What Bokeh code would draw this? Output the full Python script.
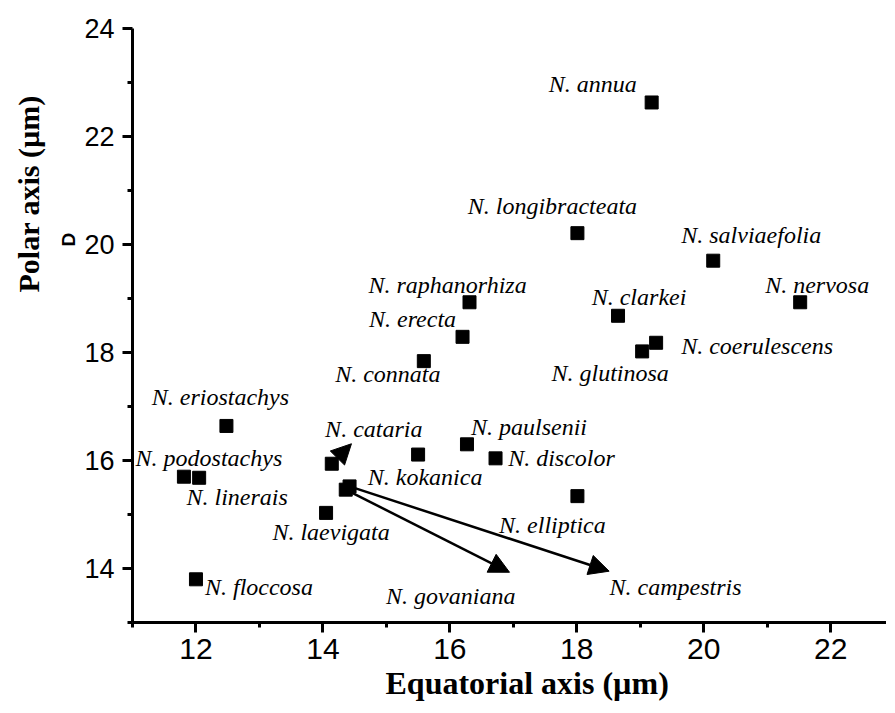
from bokeh.plotting import figure
from bokeh.models import FixedTicker, Title, Arrow, NormalHead, ColumnDataSource
from bokeh.embed import file_html
from bokeh.resources import INLINE
from bokeh.core.properties import value

# ---- data ----
species = ["N. annua", "N. longibracteata", "N. salviaefolia", "N. raphanorhiza",
           "N. nervosa", "N. clarkei", "N. erecta", "N. coerulescens", "N. glutinosa",
           "N. connata", "N. eriostachys", "N. cataria", "N. podostachys", "N. linerais",
           "N. kokanica", "N. paulsenii", "N. discolor", "N. laevigata", "N. govaniana",
           "N. campestris", "N. elliptica", "N. floccosa"]
equatorial = [19.18, 18.01, 20.15, 16.31, 21.52, 18.65, 16.20, 19.25, 19.03,
              15.59, 12.48, 14.14, 11.81, 12.05, 15.50, 16.27, 16.72, 14.05, 14.36,
              14.42, 18.01, 12.00]
polar = [22.63, 20.21, 19.70, 18.93, 18.93, 18.68, 18.29, 18.18, 18.02,
         17.84, 16.64, 15.94, 15.70, 15.68, 16.11, 16.30, 16.04, 15.03, 15.46,
         15.52, 15.34, 13.80]

x_ticks = [12, 14, 16, 18, 20, 22]
x_minor = [11, 13, 15, 17, 19, 21, 23]
y_ticks = [14, 16, 18, 20, 22, 24]
y_minor = [13, 15, 17, 19, 21, 23]

x_title = "Equatorial axis (\u00b5m)"
y_title = "Polar axis (\u00b5m)"

# ---- label placement (pixel offsets from each point) ----
label_dx = [-59, -25, 38, -22, 17, 21, -50, 101, -32, -36, -6, 42, 25, 38,
            7, 62, 66, 5, 105, 326, -25, 63]
label_dy = [-18, -27, -26, -17, -17, -19, -18, 3, 22, 13, -29, -35, -19, 19,
            22, -17, 0, 19, 106, 101, 29, 8]

# arrows: start species and tip position (data units)
arrow_species = ["N. cataria", "N. govaniana", "N. campestris"]
arrow_tip_x = [14.45, 16.94, 18.51]
arrow_tip_y = [16.31, 13.93, 13.95]

src = ColumnDataSource(dict(x=equatorial, y=polar, name=species,
                            dx=label_dx, dy=label_dy))

p = figure(width=886, height=708, x_range=(11, 22.88), y_range=(13, 24),
           output_backend="svg", toolbar_location=None,
           min_border_left=132, min_border_right=0, min_border_top=28,
           min_border_bottom=86)
p.outline_line_color = None
p.xgrid.visible = False
p.ygrid.visible = False
p.background_fill_color = "white"
p.border_fill_color = "white"

for ax, ticks, minor, size in ((p.xaxis[0], x_ticks, x_minor, "30px"),
                               (p.yaxis[0], y_ticks, y_minor, "27px")):
    ax.ticker = FixedTicker(ticks=ticks, minor_ticks=minor)
    ax.axis_line_width = 3
    ax.axis_line_color = "black"
    ax.major_tick_line_width = 3
    ax.minor_tick_line_width = 3
    ax.major_tick_line_color = "black"
    ax.minor_tick_line_color = "black"
    ax.major_tick_in = 0
    ax.major_tick_out = 10
    ax.minor_tick_in = 0
    ax.minor_tick_out = 5
    ax.major_label_text_font = "Liberation Sans"
    ax.major_label_text_font_size = size
    ax.major_label_text_color = "black"
p.xaxis.major_label_standoff = 6
p.yaxis.major_label_standoff = 8

# arrows
for sp, tx, ty in zip(arrow_species, arrow_tip_x, arrow_tip_y):
    i = species.index(sp)
    p.add_layout(Arrow(x_start=equatorial[i], y_start=polar[i], x_end=tx, y_end=ty,
                       line_width=2.5, line_color="black",
                       end=NormalHead(size=20, fill_color="black", line_color="black")))

p.scatter("x", "y", source=src, marker="square", size=13,
          fill_color="black", line_color="black")

p.text("x", "y", text="name", source=src, x_offset="dx", y_offset="dy",
       text_align="center", text_baseline="middle",
       text_font=value("Liberation Serif"), text_font_style="italic",
       text_font_size="24px", text_color="black")

# axis titles (placed as in the reference) and the stray "D" mark
p.add_layout(Title(text=x_title, align="left", offset=253, vertical_align="middle",
                   text_font="Liberation Serif", text_font_style="bold",
                   text_font_size="32px", text_color="black", standoff=4), "below")
p.add_layout(Title(text="D", align="left", offset=376, vertical_align="middle",
                   text_font="Liberation Sans", text_font_style="bold",
                   text_font_size="19px", text_color="black", standoff=4), "left")
p.add_layout(Title(text=y_title, align="left", offset=330, vertical_align="middle",
                   text_font="Liberation Serif", text_font_style="bold",
                   text_font_size="30px", text_color="black", standoff=18), "left")

open("out.html", "w").write(file_html(p, INLINE))
